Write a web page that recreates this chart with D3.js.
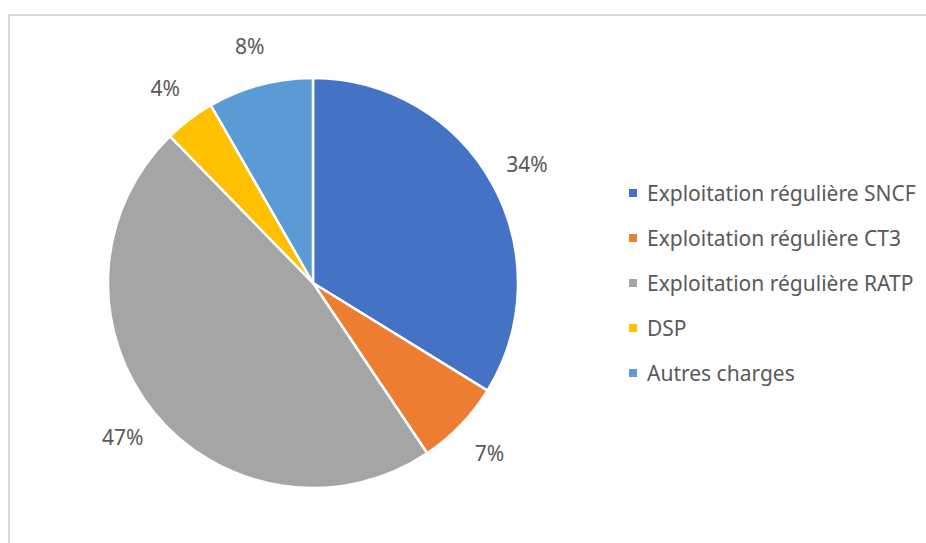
<!DOCTYPE html>
<html>
<head>
<meta charset="utf-8">
<script src="https://cdn.jsdelivr.net/npm/d3@7"></script>
<style>
  body { margin: 0; background: #fff; }
  svg text { font-family: "Noto Sans", sans-serif; fill: #595959; }
</style>
</head>
<body>
<svg id="chart" width="926" height="543"></svg>
<script>
var categories = ["Exploitation régulière SNCF", "Exploitation régulière CT3", "Exploitation régulière RATP", "DSP", "Autres charges"]
var values = [33.8, 6.8, 47.1, 4.0, 8.3]
var labels = ["34%", "7%", "47%", "4%", "8%"]
var colors = ["#4472C4", "#ED7D31", "#A5A5A5", "#FFC000", "#5B9BD5"]

var svg = d3.select("#chart")

// light frame of the chart area
svg.append("rect")
  .attr("x", 9).attr("y", 15)
  .attr("width", 940).attr("height", 560)
  .attr("fill", "none")
  .attr("stroke", "#d9d9d9")
  .attr("stroke-width", 2)

var cx = 313, cy = 283, radius = 205

var pie = d3.pie().sort(null).value(function(d) { return d })
var arcs = pie(values)

var arc = d3.arc().innerRadius(0).outerRadius(radius)
var labelArc = d3.arc().innerRadius(245).outerRadius(245)

var g = svg.append("g").attr("transform", "translate(" + cx + "," + cy + ")")

g.selectAll(".slice")
  .data(arcs)
  .enter().append("path")
  .attr("class", "slice")
  .attr("d", arc)
  .attr("fill", function(d, i) { return colors[i] })
  .attr("stroke", "#fff")
  .attr("stroke-width", 2.5)
  .attr("stroke-linejoin", "round")

g.selectAll(".lbl")
  .data(arcs)
  .enter().append("text")
  .attr("class", "lbl")
  .attr("x", function(d) { return labelArc.centroid(d)[0] })
  .attr("y", function(d) { return labelArc.centroid(d)[1] })
  .attr("text-anchor", "middle")
  .attr("dominant-baseline", "central")
  .style("font-size", "21px")
  .text(function(d, i) { return labels[i] })

// legend
var legend = svg.append("g").attr("transform", "translate(629,193)")
var item = legend.selectAll(".item")
  .data(categories)
  .enter().append("g")
  .attr("class", "item")
  .attr("transform", function(d, i) { return "translate(0," + (i * 45) + ")" })

item.append("rect")
  .attr("x", 0).attr("y", -4)
  .attr("width", 8).attr("height", 8)
  .attr("fill", function(d, i) { return colors[i] })

item.append("text")
  .attr("x", 18)
  .attr("y", 0)
  .attr("dominant-baseline", "central")
  .style("font-size", "21px")
  .text(function(d) { return d })
</script>
</body>
</html>
